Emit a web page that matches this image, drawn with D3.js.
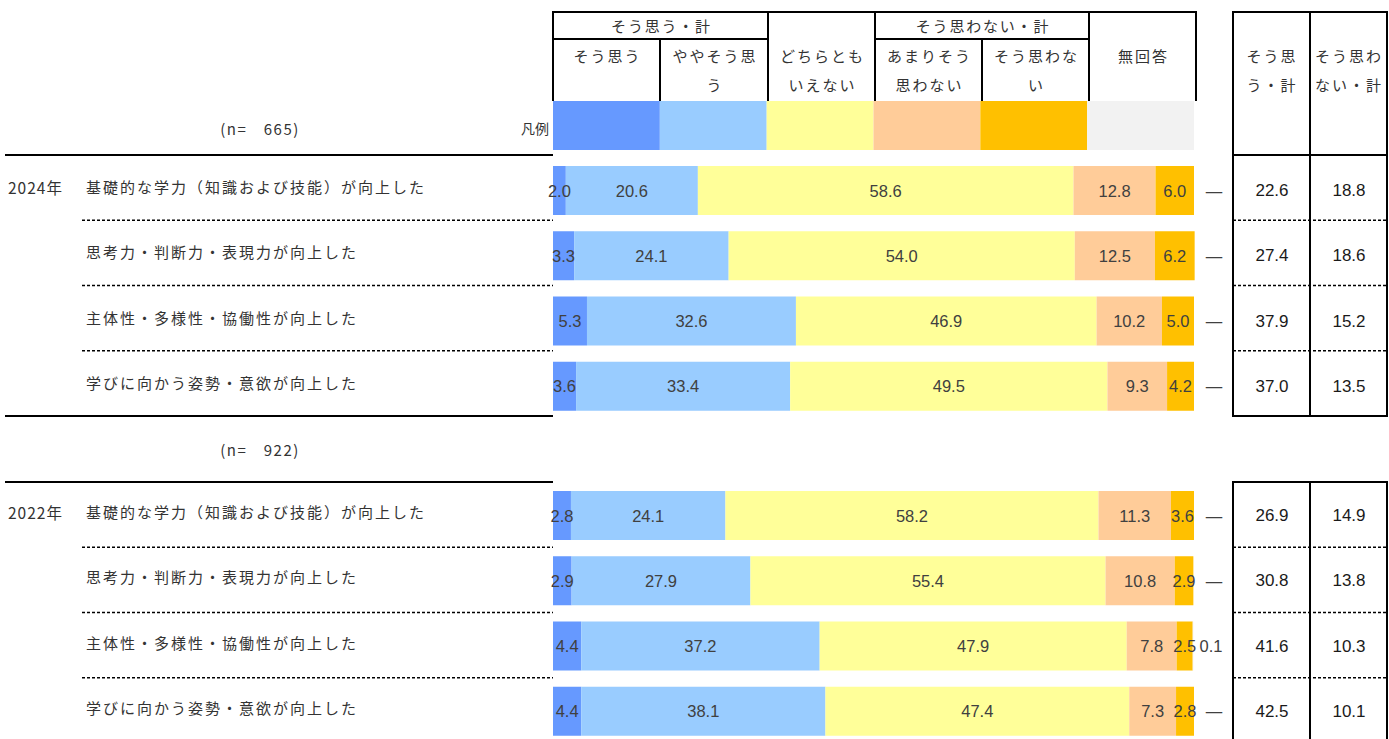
<!DOCTYPE html>
<html>
<head>
<meta charset="utf-8">
<script src="https://cdn.jsdelivr.net/npm/d3@7"></script>
<style>
  body { margin: 0; background: #fff; }
  svg text { font-family: "Noto Sans CJK JP", "Noto Sans", sans-serif; }
  .num { font-family: "Liberation Sans", Arial, sans-serif; }
</style>
</head>
<body>
<div id="graphicContainer"></div>
<script>
// categories
var segments = ["そう思う", "ややそう思う", "どちらともいえない", "あまりそう思わない", "そう思わない", "無回答"]
var colors = ["#6699ff", "#99ccff", "#ffff99", "#ffcc99", "#ffc000", "#f2f2f2"]
var items = ["基礎的な学力（知識および技能）が向上した", "思考力・判断力・表現力が向上した",
             "主体性・多様性・協働性が向上した", "学びに向かう姿勢・意欲が向上した"]
var years = ["2024年", "2022年"]
var nCounts = [665, 922]

// series values, per year, per item: [そう思う, ややそう思う, どちらとも, あまり, そう思わない, 無回答]
var values2024 = [
  [2.0, 20.6, 58.6, 12.8, 6.0, 0],
  [3.3, 24.1, 54.0, 12.5, 6.2, 0],
  [5.3, 32.6, 46.9, 10.2, 5.0, 0],
  [3.6, 33.4, 49.5, 9.3, 4.2, 0]
]
var values2022 = [
  [2.8, 24.1, 58.2, 11.3, 3.6, 0],
  [2.9, 27.9, 55.4, 10.8, 2.9, 0],
  [4.4, 37.2, 47.9, 7.8, 2.5, 0.1],
  [4.4, 38.1, 47.4, 7.3, 2.8, 0]
]
var agreeTotal2024 = [22.6, 27.4, 37.9, 37.0]
var disagreeTotal2024 = [18.8, 18.6, 15.2, 13.5]
var agreeTotal2022 = [26.9, 30.8, 41.6, 42.5]
var disagreeTotal2022 = [14.9, 13.8, 10.3, 10.1]

var blocks = [
  {year: years[0], n: nCounts[0], values: values2024, agree: agreeTotal2024, disagree: disagreeTotal2024, top: 155, bottom: 416},
  {year: years[1], n: nCounts[1], values: values2022, agree: agreeTotal2022, disagree: disagreeTotal2022, top: 482, bottom: 743}
]

var W = 1389, H = 739
var svg = d3.select("#graphicContainer").append("svg").attr("width", W).attr("height", H)

var x = d3.scaleLinear().domain([0, 100]).range([553, 1194])
var legendX = d3.scaleBand().domain(segments).range([553, 1194])
var textCol = "#333"
var numCol = "#404040"

// ---- legend header table ----
var hdr = svg.append("g")
var colEdges = [553, 660, 768, 875, 982, 1089, 1196]
function hline(g, x1, x2, y, w, dash) {
  g.append("line").attr("x1", x1).attr("x2", x2).attr("y1", y).attr("y2", y)
    .attr("stroke", "#000").attr("stroke-width", w || 2)
    .attr("stroke-dasharray", dash || null)
}
function vline(g, xx, y1, y2, w) {
  g.append("line").attr("x1", xx).attr("x2", xx).attr("y1", y1).attr("y2", y2)
    .attr("stroke", "#000").attr("stroke-width", w || 2)
}
hline(hdr, 552, 1197, 12)
hline(hdr, 553, 768, 39)
hline(hdr, 875, 1089, 39)
// inner columns of a group start below the group row
colEdges.forEach(function(e, i) { vline(hdr, e, (i === 1 || i === 4) ? 39 : 12, 101) })

function txt(g, s, xx, yy, opts) {
  opts = opts || {}
  return g.append("text").attr("x", xx).attr("y", yy)
    .attr("text-anchor", opts.anchor || "middle")
    .attr("dominant-baseline", "central")
    .attr("font-size", opts.size || 14)
    .attr("fill", opts.fill || textCol)
    .attr("class", opts.cls || null)
    .attr("letter-spacing", opts.ls || null)
    .text(s)
}
// group headers
txt(hdr, "そう思う・計", (553 + 768) / 2 + 1, 25, {size: 15, ls: 1.8})
txt(hdr, "そう思わない・計", (875 + 1089) / 2 + 1, 25, {size: 15, ls: 1.8})
var headLines = [["そう思う"], ["ややそう思", "う"], ["どちらとも", "いえない"], ["あまりそう", "思わない"], ["そう思わな", "い"], ["無回答"]]
headLines.forEach(function(lines, i) {
  var cx = (colEdges[i] + colEdges[i + 1]) / 2 + 1
  lines.forEach(function(l, j) { txt(hdr, l, cx, 55 + j * 29, {size: 15, ls: 2}) })
})
// swatches
hdr.selectAll("rect.sw").data(segments).enter().append("rect")
  .attr("x", function(d) { return legendX(d) })
  .attr("y", 101)
  .attr("width", legendX.bandwidth())
  .attr("height", 49)
  .attr("fill", function(d, i) { return colors[i] })
txt(hdr, "凡例", 549, 128, {anchor: "end", size: 14})

// right table header
var rt = svg.append("g")
txt(rt, "そう思", 1272, 55, {size: 15, ls: 2}); txt(rt, "う・計", 1272, 84, {size: 15, ls: 2})
txt(rt, "そう思わ", 1349, 55, {size: 15, ls: 2}); txt(rt, "ない・計", 1349, 84, {size: 15, ls: 2})
hline(rt, 1232, 1388, 12)

// ---- blocks ----
blocks.forEach(function(b, bi) {
  var g = svg.append("g")
  var y = d3.scaleBand().domain(items).range([b.top, b.bottom])
  var barTop = bi === 0 ? 11 : 9
  var barH = 49

  // n label
  var nY = bi === 0 ? 128 : 449
  txt(g, "(n=　" + b.n + ")", 260, nY, {size: 15, ls: 1.5})

  // left lines
  hline(g, 5, 553, b.top)
  if (bi === 0) hline(g, 5, 553, b.bottom)
  items.forEach(function(it, i) {
    if (i > 0) hline(g, 82, 553, y(it), 1.5, "3,2")
  })

  // year + item labels
  txt(g, b.year, 8, y(items[0]) + barTop + barH / 2 - 4, {anchor: "start", size: 15.5, ls: 1})
  g.selectAll("text.item").data(items).enter().append("text")
    .attr("x", 86)
    .attr("y", function(d) { return y(d) + barTop + barH / 2 - 4 })
    .attr("dominant-baseline", "central")
    .attr("font-size", 15)
    .attr("fill", textCol)
    .attr("letter-spacing", 2)
    .text(function(d) { return d })

  // bars
  b.values.forEach(function(vals, i) {
    var cy = y(items[i]) + barTop
    var stack = []
    var acc = 0
    vals.forEach(function(v, k) { stack.push({k: k, v: v, x0: acc, x1: acc + v}); acc += v })
    var row = g.append("g")
    row.selectAll("rect").data(stack.filter(function(s) { return s.v > 0 })).enter().append("rect")
      .attr("x", function(s) { return x(s.x0) })
      .attr("y", cy)
      .attr("width", function(s) { return x(s.x1) - x(s.x0) })
      .attr("height", barH)
      .attr("fill", function(s) { return colors[s.k] })
    row.selectAll("text").data(stack.slice(0, 5)).enter().append("text")
      .attr("class", "num")
      .attr("x", function(s) { return (x(s.x0) + x(s.x1)) / 2 })
      .attr("y", cy + barH / 2)
      .attr("text-anchor", "middle")
      .attr("dominant-baseline", "central")
      .attr("font-size", 16.5)
      .attr("fill", numCol)
      .text(function(s) { return s.v.toFixed(1) })
    // no answer label to the right
    var na = vals[5]
    row.append("text").attr("class", "num")
      .attr("x", na > 0 ? 1211 : 1214)
      .attr("y", cy + barH / 2)
      .attr("text-anchor", "middle")
      .attr("dominant-baseline", "central")
      .attr("font-size", 16.5)
      .attr("fill", numCol)
      .text(na > 0 ? na.toFixed(1) : "—")

    // right table values
    txt(g, b.agree[i].toFixed(1), 1272, cy + barH / 2, {size: 17, fill: "#1a1a1a", cls: "num"})
    txt(g, b.disagree[i].toFixed(1), 1349, cy + barH / 2, {size: 17, fill: "#1a1a1a", cls: "num"})
    if (i > 0) hline(g, 1233, 1387, y(items[i]), 1.5, "3,2")
  })

  // right table frame
  var tTop = bi === 0 ? 12 : b.top
  var tBot = bi === 0 ? b.bottom : H
  ;[1233, 1310, 1387].forEach(function(e) { vline(g, e, tTop, tBot) })
  hline(g, 1232, 1388, b.top)
  if (bi === 0) hline(g, 1232, 1388, b.bottom)
})
</script>
</body>
</html>
